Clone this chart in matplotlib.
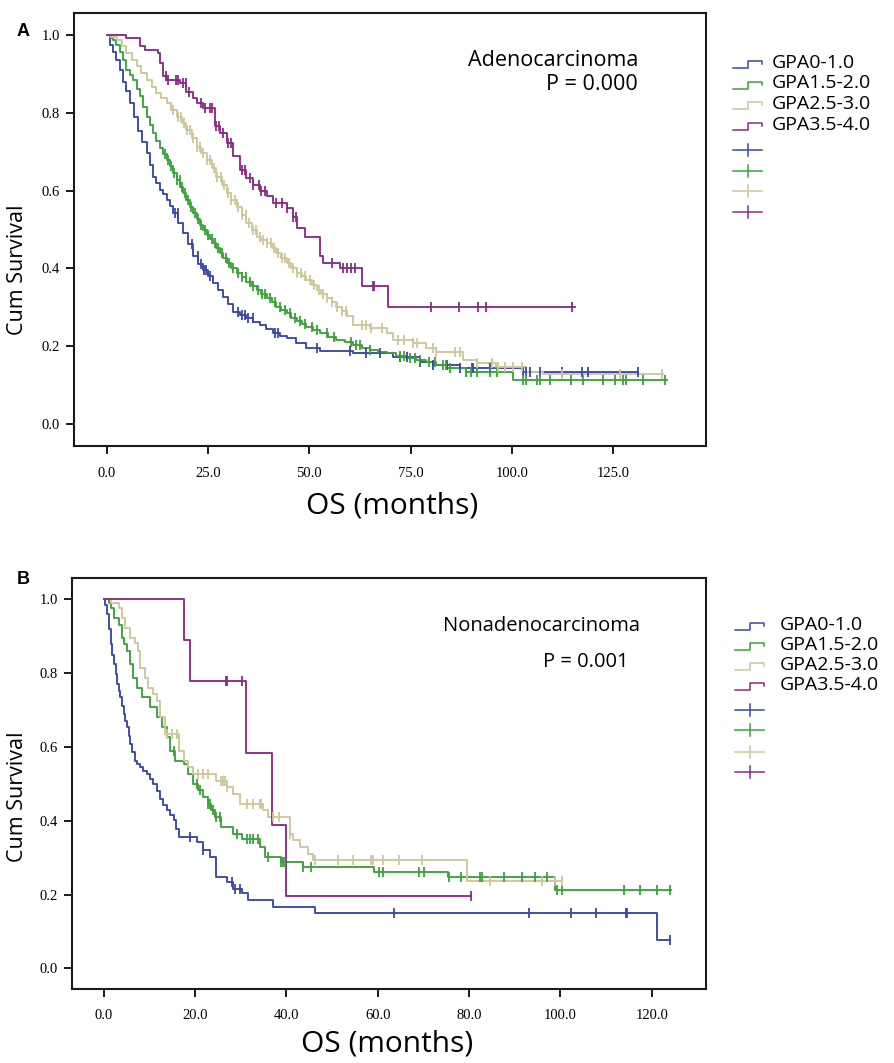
import numpy as np
import matplotlib
matplotlib.use("Agg")
import matplotlib.pyplot as plt
from matplotlib.lines import Line2D

# ---------------- data ----------------
groups = ["GPA0-1.0", "GPA1.5-2.0", "GPA2.5-3.0", "GPA3.5-4.0"]

# Panel A: Adenocarcinoma  (event times in months, survival after each event)
A_blue_t = [0.8, 1.5, 2.3, 3.3, 4.0, 4.8, 5.8, 6.8, 7.8, 8.8, 9.9, 10.7, 11.5, 12.3, 13.2, 14.0, 14.8, 15.6,
            16.4, 17.6, 18.9, 20.1, 21.4, 22.6, 23.8, 25.0, 26.3, 27.5, 28.8, 30.0, 31.3, 32.9, 34.5, 36.1,
            37.8, 39.4, 41.1, 42.7, 44.4, 46.8, 49.3, 52.6, 60.9, 70.7, 77.3, 80.6, 87.2, 102.8]
A_blue_s = [0.975, 0.955, 0.935, 0.91, 0.88, 0.855, 0.824, 0.79, 0.752, 0.725, 0.696, 0.665, 0.636, 0.62,
            0.602, 0.59, 0.576, 0.56, 0.542, 0.518, 0.491, 0.462, 0.431, 0.412, 0.396, 0.38, 0.362, 0.345,
            0.328, 0.31, 0.289, 0.28, 0.272, 0.263, 0.255, 0.244, 0.234, 0.227, 0.221, 0.208, 0.195, 0.187,
            0.182, 0.174, 0.161, 0.152, 0.144, 0.135]
A_blue_end = 131.2
A_blue_cens = [16.8, 17.5, 21.0, 22.5, 23.3, 24.0, 24.6, 25.6, 32.4, 33.5, 34.2, 35.0, 36.0, 41.5, 42.3, 52.0,
               60.0, 64.1, 67.4, 72.5, 74.0, 77.3, 80.6, 84.0, 87.2, 90.1, 90.5, 94.6, 102.8, 103.6, 104.4,
               106.9, 112.3, 117.2, 118.8, 131.2]

A_green_t = [0.8, 1.6, 2.4, 3.2, 4.1, 4.9, 5.8, 6.6, 7.4, 8.2, 9.0, 9.9, 10.7, 11.5, 12.3, 13.2, 14.0, 14.8,
             15.6, 16.4, 17.3, 18.1, 18.9, 19.7, 20.6, 21.4, 22.2, 23.0, 23.9, 24.7, 25.5, 26.3, 27.1, 28.0,
             28.8, 29.6, 30.8, 32.1, 33.3, 34.5, 35.8, 37.0, 38.2, 39.5, 40.7, 41.9, 43.1, 44.4, 45.6, 46.9,
             48.1, 49.3, 50.9, 52.6, 54.6, 56.7, 58.8, 60.9, 63.0, 65.0, 67.0, 69.1, 71.5, 74.0, 76.4, 78.9,
             81.4, 83.9, 88.8, 100.3]
A_green_s = [0.993, 0.987, 0.975, 0.955, 0.936, 0.91, 0.896, 0.884, 0.862, 0.842, 0.815, 0.79, 0.768, 0.747,
             0.728, 0.709, 0.694, 0.679, 0.662, 0.645, 0.627, 0.61, 0.593, 0.576, 0.559, 0.542, 0.527, 0.512,
             0.499, 0.486, 0.476, 0.465, 0.452, 0.439, 0.426, 0.414, 0.401, 0.388, 0.377, 0.366, 0.355, 0.345,
             0.334, 0.324, 0.313, 0.302, 0.293, 0.285, 0.274, 0.264, 0.257, 0.251, 0.242, 0.234, 0.225, 0.217,
             0.21, 0.204, 0.197, 0.191, 0.186, 0.182, 0.176, 0.17, 0.165, 0.161, 0.152, 0.144, 0.135, 0.114]
A_green_end = 138.2
A_green_cens = [14.5, 15.2, 15.9, 16.6, 17.4, 18.0, 18.6, 19.3, 20.1, 20.8, 21.7, 22.5, 23.4, 24.2, 25.0, 25.9,
                26.8, 27.6, 28.5, 29.4, 30.3, 31.2, 32.5, 33.4, 34.3, 35.3, 36.2, 37.4, 38.3, 39.2, 40.4, 41.6,
                42.8, 44.0, 45.2, 46.4, 47.6, 48.9, 50.6, 51.8, 54.5, 56.0, 60.3, 61.5, 62.5, 65.0, 72.4, 73.5,
                74.8, 76.0, 77.3, 79.5, 81.0, 82.9, 83.8, 84.7, 88.8, 89.8, 91.3, 94.6, 96.3, 102.8, 103.6, 106.1,
                106.9, 109.4, 114.7, 117.6, 122.5, 125.4, 127.4, 128.2, 132.3, 137.7]

A_tan_t = [1.2, 2.5, 3.7, 4.9, 6.2, 7.4, 8.6, 9.9, 11.1, 12.3, 13.5, 14.8, 16.0, 17.3, 18.5, 19.7, 21.0, 22.2,
           23.4, 24.7, 25.9, 27.1, 28.4, 29.6, 30.8, 32.1, 33.3, 34.5, 35.8, 37.0, 38.2, 39.5, 40.7, 41.9,
           43.1, 44.4, 45.6, 46.9, 48.1, 49.3, 50.6, 51.8, 53.0, 54.3, 55.5, 56.7, 58.0, 59.2, 60.9, 65.0,
           69.1, 70.7, 75.7, 78.9, 81.4, 88.0, 91.3, 96.0, 103.6, 107.7]
A_tan_s = [0.995, 0.987, 0.97, 0.953, 0.936, 0.919, 0.901, 0.884, 0.867, 0.85, 0.837, 0.824, 0.807, 0.79,
           0.773, 0.756, 0.735, 0.713, 0.696, 0.679, 0.657, 0.636, 0.614, 0.593, 0.576, 0.559, 0.537, 0.516,
           0.499, 0.482, 0.473, 0.465, 0.452, 0.439, 0.426, 0.414, 0.401, 0.388, 0.38, 0.371, 0.358, 0.345,
           0.334, 0.324, 0.313, 0.302, 0.29, 0.277, 0.255, 0.247, 0.234, 0.217, 0.208, 0.195, 0.186, 0.165,
           0.157, 0.148, 0.135, 0.129]
A_tan_end = 137.4
A_tan_cens = [16.5, 17.5, 18.3, 19.0, 19.8, 20.6, 21.4, 22.3, 23.1, 23.9, 24.8, 25.6, 26.5, 27.3, 28.2, 29.0,
              29.9, 30.8, 31.6, 32.5, 33.4, 34.3, 35.2, 36.0, 36.9, 37.8, 38.6, 39.6, 40.5, 41.4, 42.3, 43.2,
              44.1, 45.0, 46.0, 47.0, 48.0, 49.0, 50.1, 51.2, 52.3, 53.4, 54.5, 55.6, 56.8, 58.0, 59.0, 63.0,
              64.0, 65.2, 68.0, 72.0, 73.5, 75.7, 76.5, 80.6, 81.4, 86.0, 87.2, 91.3, 95.0, 96.6, 98.3, 100.3,
              102.4, 112.3, 126.7, 137.0]

A_purple_t = [4.9, 8.2, 9.5, 12.7, 13.2, 14.0, 14.8, 18.1, 19.7, 21.4, 22.2, 23.8, 26.7, 28.0, 29.6, 31.3,
              32.9, 34.5, 36.2, 37.8, 39.5, 41.1, 44.4, 46.1, 46.9, 48.9, 52.6, 53.5, 57.6, 62.9, 69.5]
A_purple_s = [0.991, 0.97, 0.961, 0.953, 0.927, 0.893, 0.884, 0.876, 0.854, 0.837, 0.824, 0.812, 0.765, 0.747,
              0.722, 0.688, 0.653, 0.632, 0.615, 0.598, 0.585, 0.568, 0.555, 0.533, 0.503, 0.482, 0.431, 0.414,
              0.40, 0.354, 0.302]
A_purple_end = 115.6
A_purple_cens = [14.6, 15.2, 17.1, 17.7, 18.9, 19.6, 20.4, 23.4, 24.3, 25.5, 25.9, 27.1, 27.8, 28.6, 30.0, 30.8,
                 33.3, 34.1, 35.4, 36.2, 37.5, 38.2, 39.1, 41.9, 43.2, 44.4, 46.1, 46.7, 55.5, 58.4, 59.2, 60.4,
                 61.3, 65.8, 66.1, 80.0, 87.0, 91.6, 93.5, 114.8]

# Panel B: Nonadenocarcinoma
B_blue_t = [0.4, 0.7, 1.1, 1.5, 1.9, 2.2, 2.6, 2.9, 3.3, 3.6, 4.0, 4.4, 4.7, 5.1, 5.5, 5.8, 6.3, 6.9, 7.4, 8.0,
            8.7, 9.5, 10.2, 10.9, 11.6, 12.4, 13.1, 13.8, 14.5, 15.3, 15.8, 16.4, 20.4, 21.8, 23.3, 24.7, 26.9,
            28.4, 30.2, 31.6, 37.1, 46.2, 121.1]
B_blue_s = [0.985, 0.959, 0.92, 0.878, 0.85, 0.824, 0.797, 0.77, 0.752, 0.734, 0.711, 0.689, 0.671, 0.653,
            0.63, 0.608, 0.585, 0.563, 0.554, 0.545, 0.536, 0.527, 0.514, 0.50, 0.48, 0.459, 0.443, 0.428,
            0.415, 0.401, 0.378, 0.356, 0.342, 0.32, 0.302, 0.248, 0.234, 0.216, 0.203, 0.185, 0.167, 0.151,
            0.0765]
B_blue_end = 124.0
B_blue_cens = [18.9, 21.8, 28.0, 28.7, 29.8, 63.6, 93.1, 102.4, 107.9, 114.4, 114.6, 124.0]

B_green_t = [1.1, 1.5, 2.2, 3.3, 4.0, 4.5, 5.1, 5.8, 6.5, 7.3, 8.4, 10.2, 11.6, 12.7, 13.8, 14.5, 15.6, 17.5,
             18.5, 19.6, 20.7, 21.8, 22.9, 23.6, 24.4, 25.8, 28.4, 30.2, 34.2, 35.3, 38.9, 43.6, 59.3, 75.3,
             98.9]
B_green_s = [0.99, 0.977, 0.95, 0.93, 0.896, 0.878, 0.86, 0.824, 0.788, 0.761, 0.734, 0.707, 0.68, 0.653,
             0.626, 0.59, 0.563, 0.554, 0.527, 0.50, 0.482, 0.464, 0.446, 0.428, 0.41, 0.383, 0.365, 0.351,
             0.329, 0.302, 0.288, 0.275, 0.261, 0.248, 0.212]
B_green_end = 124.3
B_green_cens = [15.3, 20.4, 21.1, 22.9, 23.3, 24.0, 24.7, 25.5, 29.1, 31.3, 32.0, 32.7, 33.8, 36.0, 38.9, 39.3,
                39.6, 43.6, 45.5, 60.4, 61.1, 69.1, 70.2, 75.6, 78.2, 82.5, 82.9, 87.6, 91.6, 94.5, 97.1, 99.3,
                100.3, 114.0, 117.5, 121.1, 124.0]

B_tan_t = [1.5, 3.3, 4.0, 4.7, 5.8, 6.9, 7.6, 8.0, 9.1, 9.8, 10.9, 11.6, 12.4, 13.5, 16.4, 17.5, 18.5, 19.6,
           24.7, 26.9, 28.4, 29.8, 34.9, 36.0, 40.7, 41.5, 42.9, 44.7, 45.8, 79.6]
B_tan_s = [0.99, 0.977, 0.95, 0.923, 0.896, 0.883, 0.86, 0.815, 0.788, 0.761, 0.743, 0.725, 0.68, 0.635,
           0.59, 0.563, 0.545, 0.527, 0.509, 0.491, 0.473, 0.446, 0.428, 0.41, 0.365, 0.347, 0.329, 0.311,
           0.293, 0.237]
B_tan_end = 100.3
B_tan_cens = [13.8, 14.9, 16.0, 20.7, 21.8, 22.9, 25.8, 26.2, 26.5, 26.9, 31.3, 32.7, 34.2, 34.5, 37.1, 38.5,
              40.7, 46.2, 51.3, 54.5, 58.5, 58.9, 61.1, 64.7, 69.8, 84.7, 96.0, 98.9, 100.3]

B_purple_t = [17.5, 18.9, 31.1, 36.9, 40.0]
B_purple_s = [0.889, 0.778, 0.584, 0.389, 0.195]
B_purple_end = 80.4
B_purple_cens = [26.8, 27.1, 30.3, 80.4]

A_xticks = [0, 25, 50, 75, 100, 125]
B_xticks = [0, 20, 40, 60, 80, 100, 120]
yticks = [0.0, 0.2, 0.4, 0.6, 0.8, 1.0]

# ---------------- style ----------------
W, H = 894, 1063
COLORS = ["#3b47a8", "#3aa33a", "#cdc79a", "#8a2c86"]
SERIF = ["Liberation Serif", "DejaVu Serif"]
SANS = ["Open Sans", "DejaVu Sans"]
LW = 1.35

fig = plt.figure(figsize=(W / 100, H / 100), dpi=100)


def rect(l, t, r, b):
    return [l / W, 1 - b / H, (r - l) / W, (b - t) / H]


def ftext(px, py, s, **kw):
    return fig.text(px / W, 1 - py / H, s, **kw)


def km(ax, t, s, end, cens, color):
    x = np.concatenate([[0.0], t, [end]])
    y = np.concatenate([[1.0], s, [s[-1]]])
    ax.step(x, y, where="post", color=color, lw=LW, zorder=3)
    c = np.asarray(cens)
    idx = np.searchsorted(np.asarray(t), c, side="right") - 1
    ys = np.where(idx >= 0, np.asarray(s)[np.clip(idx, 0, None)], 1.0)
    ax.plot(c, ys, ls="none", marker="|", ms=7.5, mew=1.3, color=color, zorder=4)


def style(ax, xticks, xlim, ylim):
    ax.set_xlim(*xlim)
    ax.set_ylim(*ylim)
    ax.set_xticks(xticks)
    ax.set_xticklabels([f"{v:.1f}" for v in xticks])
    ax.set_yticks(yticks)
    ax.set_yticklabels([f"{v:.1f}" for v in yticks])
    for sp in ax.spines.values():
        sp.set_linewidth(1.5)
        sp.set_color("#1a1a1a")
    ax.tick_params(direction="out", length=6, width=1.4, color="#1a1a1a", labelsize=10.5, pad=4)
    for lab in ax.get_xticklabels() + ax.get_yticklabels():
        lab.set_family(SERIF)
    ax.tick_params(axis="x", pad=9)


def legend(x0, y_text, y_cross, text_x):
    tr = fig.transFigure
    for i, col in enumerate(COLORS):
        yc = y_text[i]
        xs = [x0, x0 + 15, x0 + 15, x0 + 29, x0 + 29]
        ys = [yc + 5, yc + 5, yc - 2, yc - 2, yc + 1]
        fig.add_artist(Line2D([v / W for v in xs], [1 - v / H for v in ys], color=col, lw=1.1, transform=tr))
        ftext(text_x, yc, groups[i], family=SANS, fontsize=14, va="center", ha="left")
    for i, col in enumerate(COLORS):
        yc = y_cross[i]
        fig.add_artist(Line2D([x0 / W, (x0 + 29) / W], [1 - yc / H] * 2, color=col, lw=1.1, transform=tr))
        fig.add_artist(Line2D([(x0 + 15) / W] * 2, [1 - (yc - 6) / H, 1 - (yc + 6) / H], color=col, lw=1.1,
                              transform=tr))


# Panel A
axA = fig.add_axes(rect(73.5, 13, 706, 445.7))
for t, s, e, c, col in [(A_blue_t, A_blue_s, A_blue_end, A_blue_cens, COLORS[0]),
                        (A_green_t, A_green_s, A_green_end, A_green_cens, COLORS[1]),
                        (A_tan_t, A_tan_s, A_tan_end, A_tan_cens, COLORS[2]),
                        (A_purple_t, A_purple_s, A_purple_end, A_purple_cens, COLORS[3])]:
    km(axA, t, s, e, c, col)
style(axA, A_xticks, (-8.17, 147.9), (-0.055, 1.056))
ftext(638, 61, "Adenocarcinoma", family=SANS, fontsize=15.5, ha="right", va="center")
ftext(638, 85, "P = 0.000", family=SANS, fontsize=15.5, ha="right", va="center")
ftext(17, 32, "A", family=["Liberation Sans", "DejaVu Sans"], fontweight="bold", fontsize=13, va="center",
      ha="left")
ftext(18, 270, "Cum Survival", family=SANS, fontsize=15.5, rotation=90, ha="center", va="center")
ftext(392, 506, "OS (months)", family=SANS, fontsize=21.5, ha="center", va="center")
legend(733, [63, 83.5, 104, 124.5], [150, 170.5, 191, 211.5], 771.7)

# Panel B
axB = fig.add_axes(rect(71.7, 578.3, 706, 988.5))
for t, s, e, c, col in [(B_blue_t, B_blue_s, B_blue_end, B_blue_cens, COLORS[0]),
                        (B_green_t, B_green_s, B_green_end, B_green_cens, COLORS[1]),
                        (B_tan_t, B_tan_s, B_tan_end, B_tan_cens, COLORS[2]),
                        (B_purple_t, B_purple_s, B_purple_end, B_purple_cens, COLORS[3])]:
    km(axB, t, s, e, c, col)
style(axB, B_xticks, (-7.0, 131.9), (-0.0547, 1.057))
ftext(640, 626, "Nonadenocarcinoma", family=SANS, fontsize=14.5, ha="right", va="center")
ftext(629, 662, "P = 0.001", family=SANS, fontsize=14.5, ha="right", va="center")
ftext(17, 579, "B", family=["Liberation Sans", "DejaVu Sans"], fontweight="bold", fontsize=13, va="center",
      ha="left")
ftext(18, 797, "Cum Survival", family=SANS, fontsize=15.5, rotation=90, ha="center", va="center")
ftext(387, 1044, "OS (months)", family=SANS, fontsize=21.5, ha="center", va="center")
legend(735, [625, 645, 665, 685], [710, 730, 751.7, 771.7], 780)

fig.savefig("out.png", dpi=100)
